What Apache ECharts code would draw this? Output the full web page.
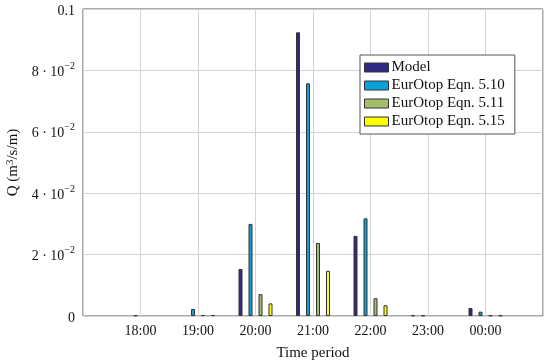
<!DOCTYPE html>
<html><head><meta charset="utf-8">
<script src="https://cdn.jsdelivr.net/npm/echarts@6/dist/echarts.min.js"></script>
<style>html,body{margin:0;padding:0;background:#fff}#c{width:550px;height:362px}</style>
</head><body><div id="c"></div>
<script>
const timeLabels = ['18:00','19:00','20:00','21:00','22:00','23:00','00:00'];
const seriesNames = ['Model','EurOtop Eqn. 5.10','EurOtop Eqn. 5.11','EurOtop Eqn. 5.15'];
const model  = [null,   null,   0.0153, 0.0924, 0.0261, 0.0002, 0.0026];
const eqn510 = [0.0002, 0.0023, 0.0300, 0.0758, 0.0318, 0.0002, 0.0014];
const eqn511 = [null,   0.0003, 0.0071, 0.0238, 0.0058, null,   0.0002];
const eqn515 = [null,   0.0003, 0.0041, 0.0147, 0.0035, null,   0.0002];
const yTickLabels = {0:'0', 0.02:'2', 0.04:'4', 0.06:'6', 0.08:'8', 0.1:'0.1'};
const colors = ['#2e2a86','#0aa0d8','#a3bf6b','#ffff00'];

const cats = [''].concat(timeLabels).concat(['']);
const pad = a => [null].concat(a).concat([null]);
const FONT = 'Liberation Serif';
const chart = echarts.init(document.getElementById('c'));
const allData = [model, eqn510, eqn511, eqn515];
chart.setOption({
  animation:false,
  textStyle:{fontFamily:FONT},
  grid:{left:83,right:7,top:9,bottom:46,show:true,borderColor:'#555',borderWidth:1,
        containLabel:false, outerBoundsMode:'none'},
  legend:{
    orient:'vertical', left:360, top:55, padding:[5,10,5,4],
    backgroundColor:'#fff', borderColor:'#555', borderWidth:1,
    itemWidth:24, itemHeight:9, itemGap:3, icon:'rect',
    textStyle:{fontFamily:FONT,fontSize:15,color:'#111',padding:[0,0,0,-2],lineHeight:15},
    itemStyle:{borderColor:'#333',borderWidth:1},
    data:seriesNames
  },
  xAxis:{
    type:'category', data:cats, boundaryGap:false,
    name:'Time period', nameLocation:'middle', nameGap:30,
    nameTextStyle:{fontFamily:FONT,fontSize:15,color:'#111'},
    axisLine:{show:false}, axisTick:{show:false},
    axisLabel:{fontFamily:FONT,fontSize:14,color:'#111',margin:8,interval:0},
    splitLine:{show:true,lineStyle:{color:'#d4d4d4',width:1}}
  },
  yAxis:{
    type:'value', min:0, max:0.1, interval:0.02,
    name:'Q (m{s|3}/s/m)', nameLocation:'middle', nameGap:50,
    nameTextStyle:{fontFamily:FONT,fontSize:15,color:'#111',
      rich:{s:{fontFamily:FONT,fontSize:11,color:'#111',verticalAlign:'top',lineHeight:18}}},
    axisLine:{show:false}, axisTick:{show:false},
    splitLine:{show:true,lineStyle:{color:'#d4d4d4',width:1}},
    axisLabel:{
      fontFamily:FONT, color:'#111', margin:8,
      formatter:function(v){
        const k = Math.round(v*100)/100;
        const lab = yTickLabels[k];
        if (k===0 || k===0.1) return '{n|'+lab+'}';
        return '{n|'+lab+' · 10}{s|−2}';
      },
      rich:{
        n:{fontFamily:FONT,fontSize:14,color:'#111',verticalAlign:'bottom',lineHeight:18},
        s:{fontFamily:FONT,fontSize:10,color:'#111',verticalAlign:'top',lineHeight:18}
      }
    }
  },
  series: seriesNames.map((n,i)=>({
    name:n, type:'bar', data:pad(allData[i]),
    barWidth:4, barGap:'150%',
    itemStyle:{color:colors[i],borderColor:'#333',borderWidth:1}
  }))
});
</script></body></html>
